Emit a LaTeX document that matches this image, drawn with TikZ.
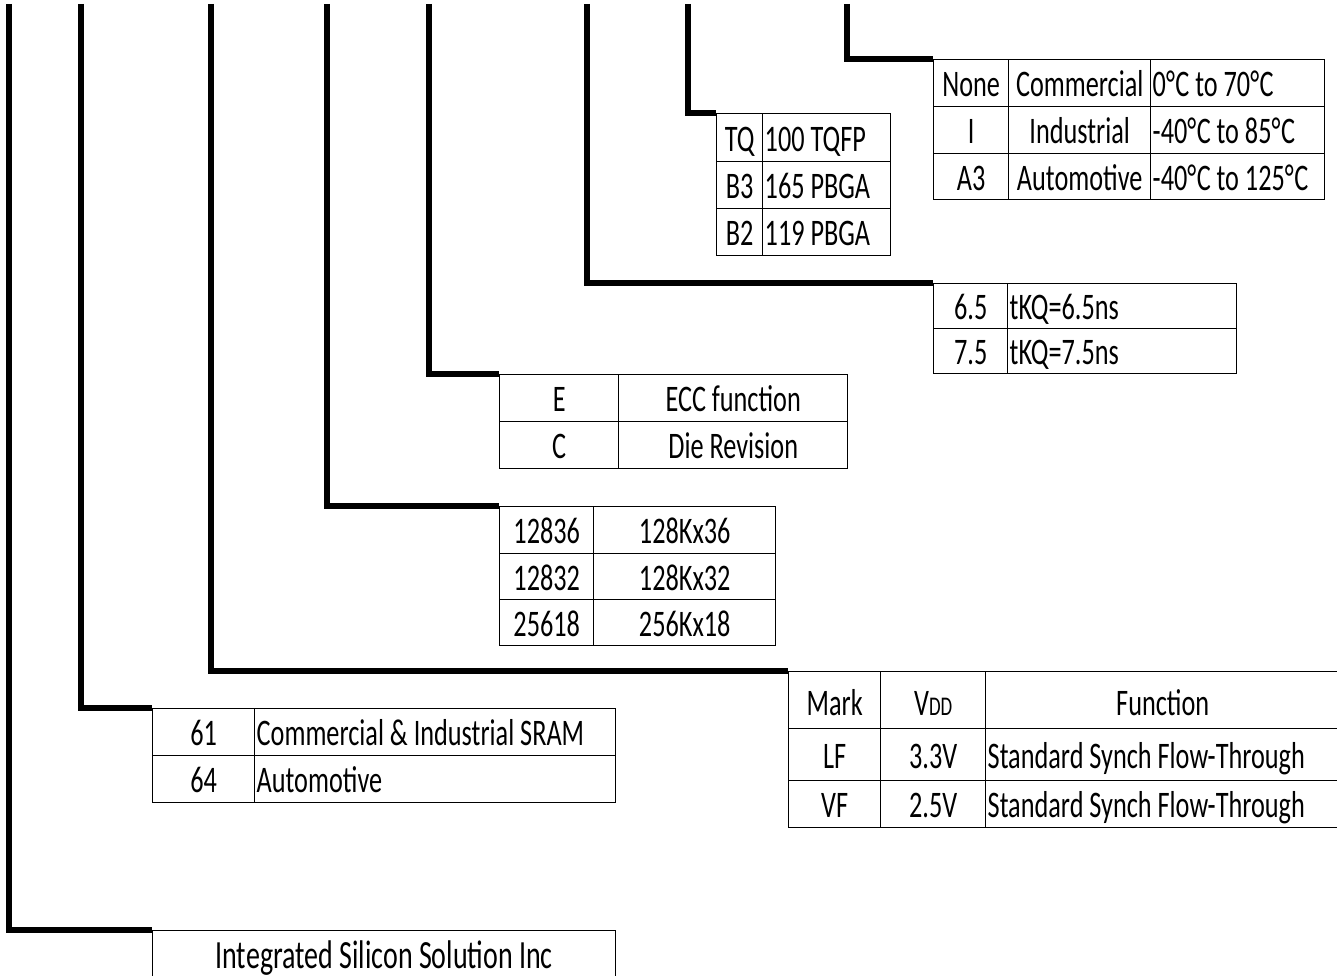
\documentclass[tikz,border=0pt]{standalone}
\usepackage{fontspec}
\setmainfont[FakeStretch=0.7]{Carlito}
\newcommand{\degC}{°\kern0.5pt C}
\begin{document}
\begin{tikzpicture}[x=1pt, y=-1pt, font=\fontsize{37.5}{40}\selectfont, line join=miter,
		cell/.style={draw, line width=1.4pt, anchor=north west, inner sep=0pt, minimum width=#1, text height=27pt, text depth=0pt},
		lcell/.style={draw, line width=1.4pt, anchor=north west, inner xsep=2pt, inner ysep=0pt, text width=#1, align=left, text height=27pt, text depth=0pt, execute at begin node={\spaceskip=0pt\relax}},
		lead/.style={line width=5.5pt}]
	\useasboundingbox (0,0) rectangle (1337,976);
	\foreach \n/\x in {A/9, B/81, C/211, D/327, E/429, F/587, G/688, H/847}{\coordinate (top\n) at (\x,4);}
	% temperature grade
	\foreach \y/\h/\a/\b/\c [count=\i] in {59/47/None/Commercial/{0\degC{} to 70\degC}, 106/47/I/Industrial/{-40\degC{} to 85\degC}, 153/46/A3/Automotive/{-40\degC{} to 125\degC}}{
		\node[cell=75, minimum height=\h] (grd\i) at (933,\y) {\a};
		\node[cell=142, minimum height=\h] (grdb\i) at (1008,\y) {\b};
		\node[lcell=170pt, minimum height=\h] (grdc\i) at (1150,\y) {\c};}
	% package
	\foreach \y/\h/\a/\b [count=\i] in {113/48/TQ/100 TQFP, 161/47/B3/165 PBGA, 208/47/B2/119 PBGA}{
		\node[cell=46, minimum height=\h] (pkg\i) at (716,\y) {\a};
		\node[lcell=124pt, minimum height=\h] (pkgb\i) at (762,\y) {\b};}
	% speed
	\foreach \y/\h/\a/\b [count=\i] in {283/45/6.5/{tKQ=6.5ns}, 328/45/7.5/{tKQ=7.5ns}}{
		\node[cell=74, minimum height=\h] (spd\i) at (933,\y) {\a};
		\node[lcell=225pt, minimum height=\h] (spdb\i) at (1007,\y) {\b};}
	% option
	\foreach \y/\a/\b [count=\i] in {374/E/ECC function, 421/C/Die Revision}{
		\node[cell=119, minimum height=47] (opt\i) at (499,\y) {\a};
		\node[cell=229, minimum height=47] (optb\i) at (618,\y) {\b};}
	% organization
	\foreach \y/\h/\a/\b [count=\i] in {506/47/12836/128Kx36, 553/46/12832/128Kx32, 599/46/25618/256Kx18}{
		\node[cell=94, minimum height=\h] (org\i) at (499,\y) {\a};
		\node[cell=182, minimum height=\h] (orgb\i) at (593,\y) {\b};}
	% voltage and function
	\node[cell=92, minimum height=57, text height=31pt] (vlt0) at (788,671) {Mark};
	\node[cell=105, minimum height=57, text height=31pt] (vltb0) at (880,671) {V{\fontsize{27}{27}\selectfont DD}};
	\node[cell=354, minimum height=57, text height=31pt] (vltc0) at (985,671) {Function};
	\foreach \y/\h/\a/\b [count=\i] in {728/52/LF/3.3V, 780/47/VF/2.5V}{
		\node[cell=92, minimum height=\h] (vlt\i) at (788,\y) {\a};
		\node[cell=105, minimum height=\h] (vltb\i) at (880,\y) {\b};
		\node[lcell=350pt, minimum height=\h] (vltc\i) at (985,\y) {Standard Synch Flow-Through};}
	% series
	\node[cell=102, minimum height=47] (ser1) at (152,708) {61};
	\node[lcell=357pt, minimum height=47] (serb1) at (254,708) {Commercial \& Industrial SRAM};
	\node[cell=102, minimum height=47] (ser2) at (152,755) {64};
	\node[lcell=357pt, minimum height=47] (serb2) at (254,755) {Automotive};
	% company
	\node[cell=463, minimum height=50, font=\fontsize{40}{42}\selectfont, text height=25pt] (isi) at (152,930) {Integrated Silicon Solution Inc};
	% leads
	\draw[lead] (topA) |- (isi.north west);
	\draw[lead] (topB) |- (ser1.north west);
	\draw[lead] (topC) |- (vlt0.north west);
	\draw[lead] (topD) |- (org1.north west);
	\draw[lead] (topE) |- (opt1.north west);
	\draw[lead] (topF) |- (spd1.north west);
	\draw[lead] (topG) |- (pkg1.north west);
	\draw[lead] (topH) |- (grd1.north west);
\end{tikzpicture}
\end{document}
